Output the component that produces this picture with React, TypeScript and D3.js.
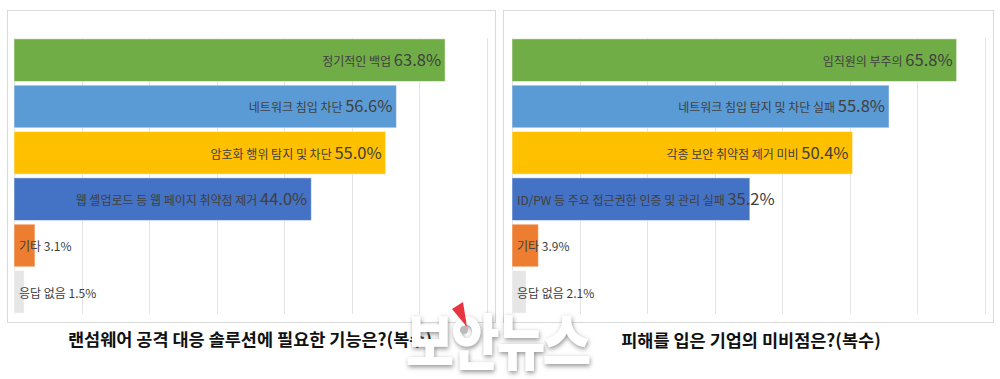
import React, { useEffect, useRef } from "react";
import * as d3 from "d3";

const leftCategories = ["정기적인 백업", "네트워크 침입 차단", "암호화 행위 탐지 및 차단", "웹 셸업로드 등 웹 페이지 취약점 제거", "기타", "응답 없음"];
const leftValues = [63.8, 56.6, 55.0, 44.0, 3.1, 1.5];
const rightCategories = ["임직원의 부주의", "네트워크 침입 탐지 및 차단 실패", "각종 보안 취약점 제거 미비", "ID/PW 등 주요 접근권한 인증 및 관리 실패", "기타", "응답 없음"];
const rightValues = [65.8, 55.8, 50.4, 35.2, 3.9, 2.1];
const barColors = ["#70ad47", "#5b9bd5", "#ffc000", "#4472c4", "#ed7d31", "#e7e6e6"];
const xTicks = [0, 10, 20, 30, 40, 50, 60, 70];
const leftTitle = "랜섬웨어 공격 대응 솔루션에 필요한 기능은?(복수)";
const rightTitle = "피해를 입은 기업의 미비점은?(복수)";
const watermark = "보안뉴스";

const FONT = "'Noto Sans CJK KR', 'Noto Sans', sans-serif";

type Panel = {
  cats: string[];
  vals: number[];
  box: [number, number, number, number];
  xr: [number, number];
  title: string;
  titleX: number;
  titleY: number;
};

const panels: Panel[] = [
  { cats: leftCategories, vals: leftValues, box: [7.5, 10.5, 488, 312], xr: [14, 487], title: leftTitle, titleX: 250, titleY: 346 },
  { cats: rightCategories, vals: rightValues, box: [503.5, 10.5, 490, 312], xr: [512, 985], title: rightTitle, titleX: 751, titleY: 347 },
];

export default function App() {
  const ref = useRef<SVGSVGElement>(null);

  useEffect(() => {
    const svg = d3.select(ref.current);
    svg.selectAll("*").remove();
    svg.append("rect").attr("width", 1000).attr("height", 379).attr("fill", "#fff");

    const defs = svg.append("defs");
    const f = defs.append("filter").attr("id", "wm").attr("x", "-20%").attr("y", "-30%").attr("width", "140%").attr("height", "160%");
    f.append("feDropShadow").attr("dx", 1).attr("dy", 2).attr("stdDeviation", 2.5).attr("flood-color", "#777").attr("flood-opacity", 0.8);

    panels.forEach((p) => {
      const g = svg.append("g");
      g.append("rect")
        .attr("x", p.box[0]).attr("y", p.box[1]).attr("width", p.box[2]).attr("height", p.box[3])
        .attr("fill", "#fff").attr("stroke", "#d9d9d9").attr("stroke-width", 1);

      const x = d3.scaleLinear().domain([0, 70]).range(p.xr);
      const y = d3.scaleBand<string>().domain(p.cats).range([37, 315]).paddingInner(0.08).paddingOuter(0.04);

      g.selectAll("line.grid").data(xTicks).enter().append("line")
        .attr("x1", (d) => Math.round(x(d)) + 0.5).attr("x2", (d) => Math.round(x(d)) + 0.5)
        .attr("y1", 38).attr("y2", 314)
        .attr("stroke", "#e3e3e3").attr("stroke-width", 1);

      g.selectAll("rect.bar").data(p.vals).enter().append("rect")
        .attr("x", x(0)).attr("y", (_, i) => y(p.cats[i])!)
        .attr("width", (d) => x(d) - x(0)).attr("height", y.bandwidth())
        .attr("fill", (_, i) => barColors[i])
        .attr("stroke", "#ffffff").attr("stroke-opacity", 0.5).attr("stroke-width", 1);

      p.vals.forEach((v, i) => {
        const cy = y(p.cats[i])! + y.bandwidth() / 2;
        const t = g.append("text")
          .attr("y", cy).attr("dy", "0.36em")
          .attr("font-family", FONT).attr("fill", "#404040");
        t.append("tspan").attr("font-size", 12).text(p.cats[i] + " ");
        t.append("tspan").attr("font-size", v >= 10 ? 16.5 : 12).text(v.toFixed(1) + "%");
        const w = (t.node() as SVGTextElement).getComputedTextLength();
        const end = x(v) - 4;
        const start = Math.max(x(0) + 5, end - w);
        t.attr("x", start);
      });

      svg.append("text")
        .attr("x", p.titleX).attr("y", p.titleY)
        .attr("text-anchor", "middle")
        .attr("font-family", FONT).attr("font-weight", "bold").attr("font-size", 17.5)
        .attr("fill", "#111")
        .text(p.title);
    });

    // watermark
    const wm = svg.append("g").attr("transform", "translate(497,365) scale(0.86,1)");
    wm.append("text")
      .attr("x", 0).attr("y", 0)
      .attr("text-anchor", "middle")
      .attr("font-family", FONT).attr("font-weight", "900").attr("font-size", 61)
      .attr("letter-spacing", -3)
      .attr("fill", "#ffffff")
      .attr("filter", "url(#wm)")
      .text(watermark);
    svg.append("circle").attr("cx", 464).attr("cy", 330).attr("r", 4).attr("fill", "#bbb");
    svg.append("path")
      .attr("d", "M452,309 L463,302 L467,327 Z")
      .attr("fill", "#e8343f");
  }, []);

  return <svg ref={ref} width={1000} height={379} style={{ display: "block", position: "absolute", left: 0, top: 0 }} />;
}
